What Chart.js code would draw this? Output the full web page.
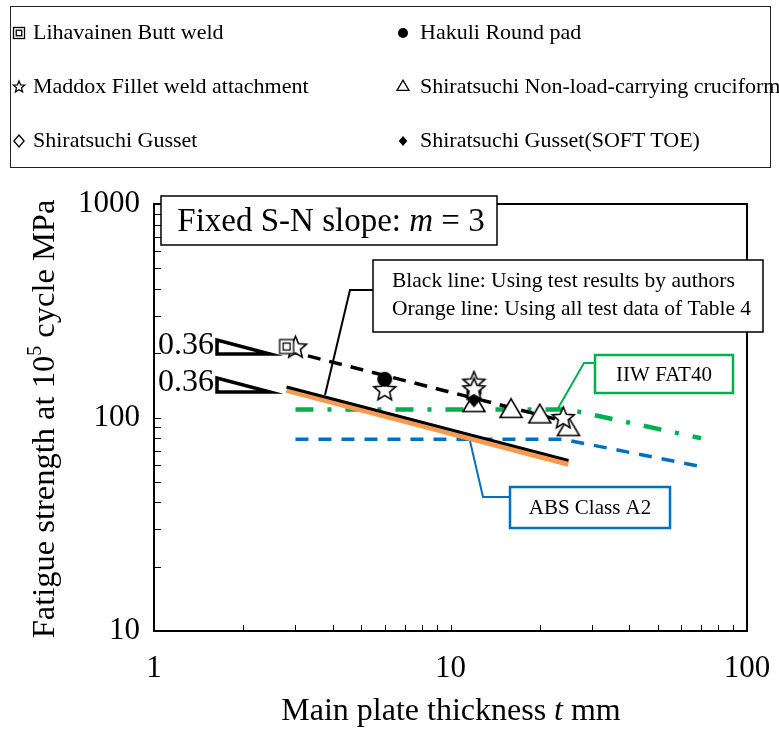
<!DOCTYPE html>
<html>
<head>
<meta charset="utf-8">
<script src="https://cdn.jsdelivr.net/npm/chart.js@4.4.1/dist/chart.umd.min.js"></script>
<style>
  html, body { margin: 0; padding: 0; background: #fff; }
  #wrap { position: relative; width: 779px; height: 733px; }
  #chart { position: absolute; left: 0; top: 0; }
  #legend {
    position: absolute; left: 10px; top: 6px; width: 759px; height: 160px;
    border: 1.5px solid #222; font-family: "Liberation Serif", serif; font-size: 22px; color: #000;
  }
  .item { position: absolute; white-space: nowrap; line-height: 24px; height: 24px; }
  .item canvas { position: absolute; top: 5px; }
  .item span { position: absolute; top: 0; }
</style>
</head>
<body>
<div id="wrap">
  <canvas id="chart" width="779" height="733"></canvas>
  <div id="legend"></div>
</div>
<script>
// ---- data (t in mm, S in MPa) ----
var lihavainenT = [2.8];
var lihavainenS = [215];
var hakuliT = [6];
var hakuliS = [151];
var maddoxT = [3, 6, 12, 12, 24];
var maddoxS = [212, 134, 145, 135, 99];
var cruciformT = [12, 16, 20, 25];
var cruciformS = [114, 107, 101, 88];
var gussetT = [12];
var gussetS = [129];
var softToeT = [12];
var softToeS = [122];

// regression / design lines
var fitDashedT = [2.8, 25];
var fitDashedS = [206, 95];
var authorsT = [2.8, 25];
var authorsS = [139, 63];
var allDataT = [2.8, 25];
var allDataS = [135.5, 61];
var iiwT = [3, 25, 70];
var iiwS = [109, 109, 80];
var absT = [3, 24, 72];
var absS = [79, 79, 58.5];

var xTickValues = [1, 10, 100];
var xTickLabels = ['1', '10', '100'];
var yTickValues = [10, 100, 1000];
var yTickLabels = ['10', '100', '1000'];

var FONT = '"Liberation Serif", "Times New Roman", serif';

function zip(ts, ss) {
  return ts.map(function (t, i) { return {x: t, y: ss[i]}; });
}

// marker painter shared by chart points and legend icons
function paintMarker(ctx, kind, cx, cy, s) {
  ctx.save();
  ctx.strokeStyle = '#000';
  ctx.fillStyle = '#fff';
  ctx.lineWidth = s > 8 ? 1.6 : 1.3;
  ctx.lineJoin = 'miter';
  ctx.beginPath();
  if (kind === 'square') {
    ctx.fillRect(cx - s, cy - s, 2 * s, 2 * s);
    ctx.strokeRect(cx - s, cy - s, 2 * s, 2 * s);
    ctx.strokeRect(cx - s * 0.5, cy - s * 0.5, s, s);
  } else if (kind === 'star') {
    for (var i = 0; i < 10; i++) {
      var r = i % 2 === 0 ? s : s * 0.45;
      var a = -Math.PI / 2 + i * Math.PI / 5;
      var px = cx + r * Math.cos(a), py = cy + r * Math.sin(a);
      if (i === 0) ctx.moveTo(px, py); else ctx.lineTo(px, py);
    }
    ctx.closePath(); ctx.fill(); ctx.stroke();
  } else if (kind === 'circle') {
    ctx.fillStyle = '#000';
    ctx.arc(cx, cy, s, 0, Math.PI * 2);
    ctx.fill();
  } else if (kind === 'triangle') {
    var h = s * 1.7;
    ctx.moveTo(cx, cy - h * 2 / 3);
    ctx.lineTo(cx + s, cy + h / 3);
    ctx.lineTo(cx - s, cy + h / 3);
    ctx.closePath(); ctx.fill(); ctx.stroke();
  } else if (kind === 'diamond' || kind === 'diamondFill') {
    if (kind === 'diamondFill') ctx.fillStyle = '#000';
    ctx.moveTo(cx, cy - s); ctx.lineTo(cx + s * 0.85, cy);
    ctx.lineTo(cx, cy + s); ctx.lineTo(cx - s * 0.85, cy);
    ctx.closePath(); ctx.fill(); ctx.stroke();
  }
  ctx.restore();
}

function markerCanvas(kind, s) {
  var c = document.createElement('canvas');
  var size = Math.ceil(2 * s + 6);
  c.width = size; c.height = size;
  paintMarker(c.getContext('2d'), kind, size / 2, size / 2, s);
  return c;
}

// ---- legend (HTML, two columns) ----
var legendItems = [
  ['square', 'Lihavainen Butt weld', 0, 0, 5.5],
  ['circle', 'Hakuli Round pad', 1, 0, 5],
  ['star', 'Maddox Fillet weld attachment', 0, 1, 6],
  ['triangle', 'Shiratsuchi Non-load-carrying cruciform', 1, 1, 6],
  ['diamond', 'Shiratsuchi Gusset', 0, 2, 6],
  ['diamondFill', 'Shiratsuchi Gusset(SOFT TOE)', 1, 2, 4]
];
var legend = document.getElementById('legend');
legendItems.forEach(function (it) {
  var div = document.createElement('div');
  div.className = 'item';
  div.style.left = (it[2] === 0 ? 0 : 384) + 'px';
  div.style.top = (13 + it[3] * 54) + 'px';
  var c = document.createElement('canvas');
  c.width = 16; c.height = 16;
  c.style.left = '0px';
  paintMarker(c.getContext('2d'), it[0], 8, 8, it[4]);
  var sp = document.createElement('span');
  sp.style.left = (it[2] === 0 ? 22 : 25) + 'px';
  sp.textContent = it[1];
  div.appendChild(c); div.appendChild(sp);
  legend.appendChild(div);
});

// ---- drawing helpers ----
function richText(ctx, parts, x, y, size, align) {
  function fontFor(st) {
    return (st === 'i' ? 'italic ' : '') + (st === 'sup' ? Math.round(size * 0.62) : size) + 'px ' + FONT;
  }
  var w = 0;
  parts.forEach(function (p) { ctx.font = fontFor(p[1]); w += ctx.measureText(p[0]).width; });
  var cx = align === 'left' ? x : x - w / 2;
  ctx.textAlign = 'left';
  ctx.textBaseline = 'middle';
  parts.forEach(function (p) {
    ctx.font = fontFor(p[1]);
    ctx.fillText(p[0], cx, p[1] === 'sup' ? y - size * 0.3 : y);
    cx += ctx.measureText(p[0]).width;
  });
}

function polyline(ctx, pts, color, lw) {
  ctx.save();
  ctx.strokeStyle = color; ctx.lineWidth = lw; ctx.setLineDash([]);
  ctx.beginPath();
  pts.forEach(function (p, i) { if (i === 0) ctx.moveTo(p[0], p[1]); else ctx.lineTo(p[0], p[1]); });
  ctx.stroke();
  ctx.restore();
}

function box(ctx, x, y, w, h, color, lw) {
  ctx.save();
  ctx.fillStyle = '#fff'; ctx.fillRect(x, y, w, h);
  ctx.strokeStyle = color; ctx.lineWidth = lw; ctx.strokeRect(x, y, w, h);
  ctx.restore();
}

var decorations = {
  id: 'decorations',
  afterDatasetsDraw: function (chart) {
    var ctx = chart.ctx, a = chart.chartArea;
    var xs = chart.scales.x, ys = chart.scales.y;
    ctx.save();
    // frame
    ctx.strokeStyle = '#000'; ctx.lineWidth = 2;
    ctx.strokeRect(a.left, a.top, a.right - a.left, a.bottom - a.top);
    // inward tick marks
    ctx.lineWidth = 1;
    ctx.beginPath();
    for (var d = 1; d <= 10; d *= 10) {
      for (var k = 1; k <= 9; k++) {
        var v = d * k;
        if (v <= 1 || v >= 100) continue;
        var px = Math.round(xs.getPixelForValue(v)) + 0.5;
        ctx.moveTo(px, a.bottom); ctx.lineTo(px, a.bottom - 6);
      }
    }
    for (var e = 10; e <= 100; e *= 10) {
      for (var j = 1; j <= 9; j++) {
        var w = e * j;
        if (w <= 10 || w >= 1000) continue;
        var py = Math.round(ys.getPixelForValue(w)) + 0.5;
        ctx.moveTo(a.left, py); ctx.lineTo(a.left + 7, py);
      }
    }
    ctx.stroke();

    ctx.fillStyle = '#000';
    // slope triangles and labels
    ctx.lineWidth = 3.5; ctx.lineJoin = 'miter';
    [[340, 354], [378, 392]].forEach(function (r) {
      ctx.beginPath();
      ctx.moveTo(217, r[0]); ctx.lineTo(217, r[1]); ctx.lineTo(270, r[1]); ctx.closePath();
      ctx.fillStyle = '#fff'; ctx.fill(); ctx.stroke();
    });
    ctx.fillStyle = '#000';
    ctx.font = '32px ' + FONT; ctx.textAlign = 'right'; ctx.textBaseline = 'middle';
    ctx.fillText('0.36', 214, 346);
    ctx.fillText('0.36', 214, 383);

    // "Fixed S-N slope" box
    box(ctx, 161, 196, 336, 49, '#000', 1.5);
    ctx.fillStyle = '#000';
    richText(ctx, [['Fixed S-N slope: ', ''], ['m', 'i'], [' = 3', '']], 331, 222, 33);

    // black / orange note
    polyline(ctx, [[373, 290], [350, 290], [325, 395]], '#000', 2);
    box(ctx, 373, 260, 390, 72, '#000', 1.5);
    ctx.fillStyle = '#000';
    ctx.font = '21.5px ' + FONT; ctx.textAlign = 'left'; ctx.textBaseline = 'middle';
    ctx.fillText('Black line: Using test results by authors', 392, 281);
    ctx.fillText('Orange line: Using all test data of Table 4', 392, 309);

    // IIW note
    polyline(ctx, [[595, 363], [584, 363], [557, 410]], '#00b050', 2);
    box(ctx, 595, 355, 138, 38, '#00b050', 2.5);
    ctx.fillStyle = '#000'; ctx.textAlign = 'center';
    ctx.font = '21px ' + FONT;
    ctx.fillText('IIW FAT40', 664, 375);

    // ABS note
    polyline(ctx, [[510, 497], [483, 497], [470, 441]], '#0070c0', 2);
    box(ctx, 510, 487, 160, 41, '#0070c0', 2.5);
    ctx.fillStyle = '#000'; ctx.textAlign = 'center';
    ctx.fillText('ABS Class A2', 590, 508);

    // axis titles
    richText(ctx, [['Main plate thickness ', ''], ['t', 'i'], [' mm', '']], 451, 712, 32);
    ctx.save();
    ctx.translate(45, 419);
    ctx.rotate(-Math.PI / 2);
    richText(ctx, [['Fatigue strength at 10', ''], ['5', 'sup'], [' cycle MPa', '']], 0, 0, 32.5);
    ctx.restore();
    ctx.restore();
  }
};

function lineSet(ts, ss, color, width, dash) {
  return {
    type: 'line', data: zip(ts, ss), borderColor: color, borderWidth: width,
    borderDash: dash, pointRadius: 0, fill: false, tension: 0, showLine: true
  };
}

function pointSet(ts, ss, kind, s) {
  return {
    type: 'scatter', data: zip(ts, ss), pointStyle: markerCanvas(kind, s),
    pointRadius: s, showLine: false
  };
}

var tickFont = {family: FONT, size: 31};

new Chart(document.getElementById('chart'), {
  data: {
    datasets: [
      pointSet(lihavainenT, lihavainenS, 'square', 7),
      pointSet(hakuliT, hakuliS, 'circle', 7.5),
      pointSet(maddoxT, maddoxS, 'star', 11.5),
      pointSet(softToeT, softToeS, 'diamondFill', 7.5),
      pointSet(cruciformT, cruciformS, 'triangle', 11),
      pointSet(gussetT, gussetS, 'diamond', 8),
      lineSet(fitDashedT, fitDashedS, '#000', 3.5, [13, 9]),
      lineSet(authorsT, authorsS, '#000', 3, []),
      lineSet(allDataT, allDataS, '#f59a4f', 7, []),
      lineSet(iiwT, iiwS, '#00b050', 4.5, [18, 14, 4, 14]),
      lineSet(absT, absS, '#0070c0', 3.5, [13, 10])
    ]
  },
  options: {
    responsive: false,
    animation: false,
    layout: {padding: {top: 204, right: 32, bottom: 0, left: 0}},
    plugins: {legend: {display: false}, tooltip: {enabled: false}},
    scales: {
      x: {
        type: 'logarithmic', min: 1, max: 100,
        grid: {display: false, drawTicks: false},
        border: {display: false},
        ticks: {
          font: tickFont, color: '#000', padding: 19, maxRotation: 0, autoSkip: false,
          callback: function (v, i) { return xTickLabels[i]; }
        },
        afterBuildTicks: function (s) { s.ticks = xTickValues.map(function (v) { return {value: v}; }); },
        afterFit: function (s) { s.height = 102; s.paddingLeft = 0; s.paddingRight = 0; }
      },
      y: {
        type: 'logarithmic', min: 10, max: 1000,
        grid: {display: false, drawTicks: false},
        border: {display: false},
        ticks: {
          font: tickFont, color: '#000', padding: 14, autoSkip: false,
          callback: function (v, i) { return yTickLabels[i]; }
        },
        afterBuildTicks: function (s) { s.ticks = yTickValues.map(function (v) { return {value: v}; }); },
        afterFit: function (s) { s.width = 154; s.paddingTop = 0; s.paddingBottom = 0; }
      }
    }
  },
  plugins: [decorations]
});
</script>
</body>
</html>
